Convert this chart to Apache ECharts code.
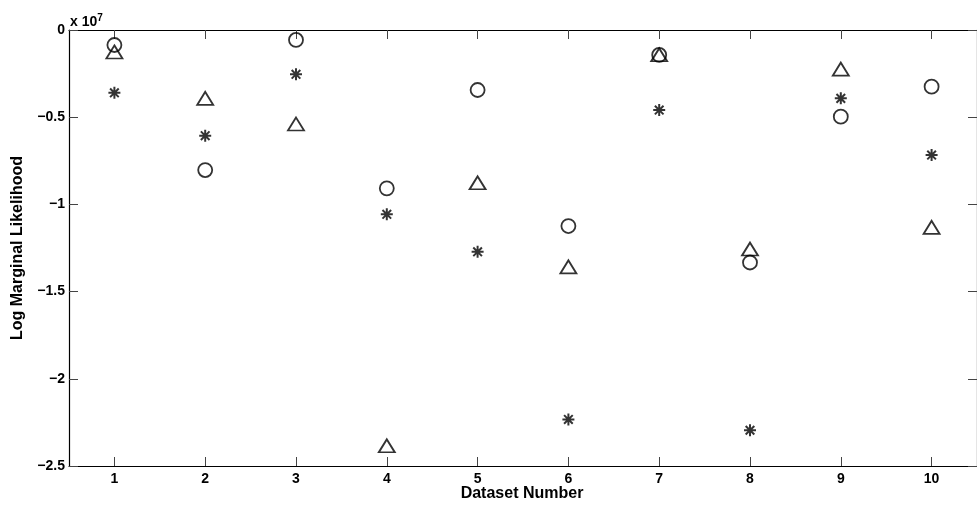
<!DOCTYPE html>
<html>
<head>
<meta charset="utf-8">
<script src="https://cdn.jsdelivr.net/npm/echarts@6/dist/echarts.min.js"></script>
<style>
  html, body { margin: 0; padding: 0; background: #fff; }
  #chart { width: 977px; height: 508px; }
</style>
</head>
<body>
<div id="chart"></div>
<script>
// Log marginal likelihood per dataset, in units of 1e7
const datasets = ['1', '2', '3', '4', '5', '6', '7', '8', '9', '10'];
const circleValues   = [-0.086, -0.803, -0.057, -0.908, -0.344, -1.124, -0.143, -1.333, -0.497, -0.325];
const triangleValues = [-0.126, -0.392, -0.539, -2.384, -0.876, -1.358, -0.142, -1.256, -0.224, -1.132];
const starValues     = [-0.360, -0.606, -0.254, -1.057, -1.272, -2.233, -0.459, -2.295, -0.392, -0.717];

const yTicks = [-2.5, -2, -1.5, -1, -0.5, 0];
const yTickLabels = ['\u22122.5', '\u22122', '\u22121.5', '\u22121', '\u22120.5', '0'];

const FONT = '"Liberation Sans", Arial, Helvetica, sans-serif';
const ASTERISK = 'path://M0,-1L0,1M-1,0L1,0M-0.72,-0.72L0.72,0.72M-0.72,0.72L0.72,-0.72';

const chart = echarts.init(document.getElementById('chart'), null, { renderer: 'canvas' });

function ticks(extra) {
  return Object.assign({ show: true, inside: true, length: 9, lineStyle: { color: '#444', width: 1 } }, extra || {});
}
function axisLine() {
  return { show: true, onZero: false, lineStyle: { color: '#000', width: 1.2 } };
}

function markerSeries(name, values, symbol, size, width) {
  return {
    name: name,
    type: 'scatter',
    data: values,
    symbol: symbol,
    symbolSize: size,
    itemStyle: { color: 'rgba(0,0,0,0)', borderColor: '#000', borderWidth: width },
    emphasis: { disabled: true },
    animation: false,
    z: 3
  };
}

chart.setOption({
  backgroundColor: '#fff',
  animation: false,
  grid: { left: 69, top: 30, width: 913, height: 436, containLabel: false },
  xAxis: [
    {
      type: 'category',
      data: datasets,
      position: 'bottom',
      boundaryGap: true,
      axisLine: axisLine(),
      axisTick: ticks({ alignWithLabel: true }),
      axisLabel: { margin: 6, color: '#000', fontFamily: FONT, fontWeight: 'bold', fontSize: 14 },
      splitLine: { show: false }
    },
    {
      type: 'category',
      data: datasets,
      position: 'top',
      boundaryGap: true,
      axisLine: axisLine(),
      axisTick: ticks({ alignWithLabel: true }),
      axisLabel: { show: false },
      splitLine: { show: false }
    }
  ],
  yAxis: [
    {
      type: 'value',
      min: -2.5,
      max: 0,
      interval: 0.5,
      position: 'left',
      axisLine: axisLine(),
      axisTick: ticks(),
      axisLabel: {
        margin: 4,
        color: '#000',
        fontFamily: FONT,
        fontWeight: 'bold',
        fontSize: 14,
        formatter: function (v) {
          const i = yTicks.findIndex(t => Math.abs(t - v) < 1e-9);
          return i >= 0 ? yTickLabels[i] : '';
        }
      },
      splitLine: { show: false }
    },
    {
      type: 'value',
      min: -2.5,
      max: 0,
      interval: 0.5,
      position: 'right',
      axisLine: axisLine(),
      axisTick: ticks(),
      axisLabel: { show: false },
      splitLine: { show: false }
    }
  ],
  series: [
    markerSeries('circle', circleValues, 'circle', 14, 1.8),
    markerSeries('triangle', triangleValues, 'triangle', [16, 13], 1.8),
    markerSeries('asterisk', starValues, ASTERISK, 12, 2)
  ],
  graphic: [
    {
      type: 'text',
      left: 70,
      top: 13,
      style: {
        text: '{b|x 10}{s|7}',
        rich: {
          b: { fontFamily: FONT, fontWeight: 'bold', fontSize: 14, fill: '#000', verticalAlign: 'bottom', lineHeight: 16 },
          s: { fontFamily: FONT, fontWeight: 'bold', fontSize: 10, fill: '#000', verticalAlign: 'top', lineHeight: 16, padding: [0, 0, 8, 0] }
        }
      }
    },
    {
      type: 'text',
      x: 18,
      y: 248,
      rotation: Math.PI / 2,
      style: {
        text: 'Log Marginal Likelihood',
        fontFamily: FONT,
        fontWeight: 'bold',
        fontSize: 16,
        fill: '#000',
        align: 'center',
        verticalAlign: 'middle'
      }
    },
    {
      type: 'text',
      x: 522,
      y: 494,
      style: {
        text: 'Dataset Number',
        fontFamily: FONT,
        fontWeight: 'bold',
        fontSize: 16,
        fill: '#000',
        align: 'center',
        verticalAlign: 'middle'
      }
    }
  ]
});
</script>
</body>
</html>
